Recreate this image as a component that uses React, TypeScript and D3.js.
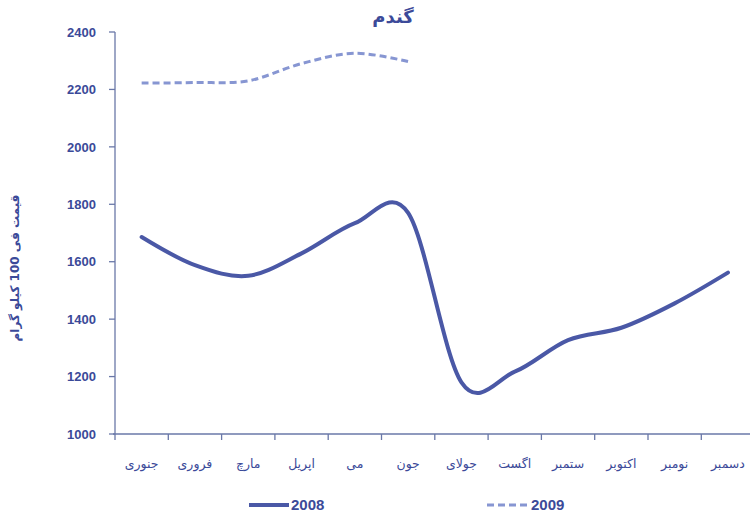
import React from "react";
import * as d3 from "d3";

// Wheat price per 100 kg, by month
const months = [
  "جنوری", "فروری", "مارچ", "اپریل", "می", "جون",
  "جولای", "اگست", "ستمبر", "اکتوبر", "نومبر", "دسمبر",
];
const prices2008 = [1686, 1588, 1551, 1629, 1734, 1770, 1180, 1217, 1327, 1370, 1455, 1562];
const prices2009 = [2222, 2224, 2230, 2290, 2326, 2297];
const yTicks = [1000, 1200, 1400, 1600, 1800, 2000, 2200, 2400];
const seriesNames = ["2008", "2009"];
const title = "گندم";
const yTitle = "قیمت فی 100 کیلو گرام";

const W = 750;
const H = 520;
const left = 115;
const top = 32;
const bottom = 434;
const band = 53.3;

const textBlue = "#3b4a99";
const axisColor = "#6a78a8";
const solidBlue = "#4a58a6";
const dashBlue = "#8796d2";
const numFont = "'Liberation Sans', Arial, sans-serif";
const arFont = "'DejaVu Sans', sans-serif";

export default function App() {
  const x = d3
    .scaleBand<string>()
    .domain(months)
    .range([left, left + band * months.length])
    .paddingInner(0)
    .paddingOuter(0);
  const y = d3.scaleLinear().domain([1000, 2400]).range([bottom, top]);

  const cx = (i: number) => (x(months[i]) as number) + x.bandwidth() / 2;
  const line = d3
    .line<number>()
    .x((_, i) => cx(i))
    .y((d) => y(d))
    .curve(d3.curveCardinal.tension(0));

  const xTicks = d3.range(months.length + 1).map((i) => left + i * x.bandwidth());

  return (
    <svg
      width={W}
      height={H}
      style={{ position: "absolute", left: 0, top: 0, background: "#ffffff" }}
    >
      {/* title */}
      <text
        x={393}
        y={23}
        textAnchor="middle"
        fontFamily={arFont}
        fontWeight="bold"
        fontSize={18}
        fill={textBlue}
      >
        {title}
      </text>

      {/* y axis */}
      <line x1={left} x2={left} y1={top} y2={bottom} stroke={axisColor} strokeWidth={1.3} />
      {yTicks.map((t) => (
        <g key={t}>
          <line x1={left - 6} x2={left} y1={y(t)} y2={y(t)} stroke={axisColor} strokeWidth={1.3} />
          <text
            x={96}
            y={y(t)}
            dy="0.36em"
            textAnchor="end"
            fontFamily={numFont}
            fontWeight="bold"
            fontSize={13}
            fill={textBlue}
          >
            {t}
          </text>
        </g>
      ))}
      <text
        transform={`translate(19,${268}) rotate(-90)`}
        textAnchor="middle"
        fontFamily={arFont}
        fontWeight="bold"
        fontSize={12}
        fill={textBlue}
      >
        {yTitle}
      </text>

      {/* x axis */}
      <line x1={left - 2} x2={W} y1={bottom} y2={bottom} stroke={axisColor} strokeWidth={1.3} />
      {xTicks.map((t, i) => (
        <line key={i} x1={t} x2={t} y1={bottom} y2={bottom + 6} stroke={axisColor} strokeWidth={1.3} />
      ))}
      {months.map((m, i) => (
        <text
          key={m}
          x={cx(i)}
          y={468}
          textAnchor="middle"
          fontFamily={arFont}
          fontSize={12.5}
          fill={textBlue}
        >
          {m}
        </text>
      ))}

      {/* series */}
      <path
        d={line(prices2009) || ""}
        fill="none"
        stroke={dashBlue}
        strokeWidth={3}
        strokeDasharray="7,4"
      />
      <path
        d={line(prices2008) || ""}
        fill="none"
        stroke={solidBlue}
        strokeWidth={4}
        strokeLinecap="round"
      />

      {/* legend */}
      <line x1={249} x2={289} y1={505} y2={505} stroke={solidBlue} strokeWidth={4} />
      <text x={291} y={505} dy="0.36em" fontFamily={numFont} fontWeight="bold" fontSize={15} fill={textBlue}>
        {seriesNames[0]}
      </text>
      <line x1={487} x2={530} y1={505} y2={505} stroke={dashBlue} strokeWidth={3} strokeDasharray="7,4" />
      <text x={531} y={505} dy="0.36em" fontFamily={numFont} fontWeight="bold" fontSize={15} fill={textBlue}>
        {seriesNames[1]}
      </text>
    </svg>
  );
}
